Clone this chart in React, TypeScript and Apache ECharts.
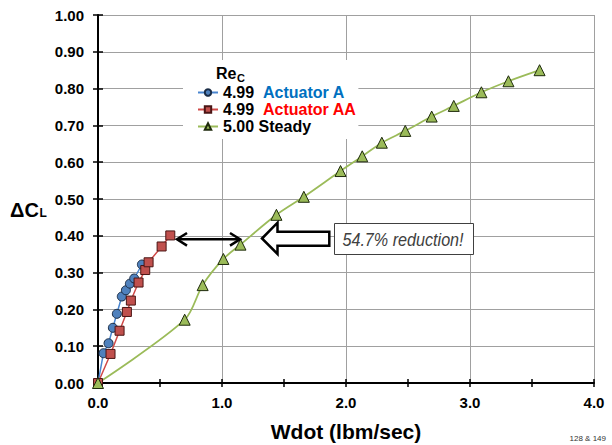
import React, { useEffect, useRef } from 'react';
import * as echarts from 'echarts';

// Wdot (lbm/sec) vs ΔCL
const actuatorAX = [0, 0.044, 0.085, 0.12, 0.152, 0.192, 0.225, 0.257, 0.292, 0.354];
const actuatorAY = [0, 0.081, 0.108, 0.15, 0.188, 0.235, 0.252, 0.27, 0.284, 0.322];
const actuatorAAX = [0, 0.101, 0.174, 0.233, 0.265, 0.327, 0.381, 0.408, 0.513, 0.583];
const actuatorAAY = [0, 0.079, 0.142, 0.193, 0.224, 0.273, 0.307, 0.328, 0.371, 0.401];
const steadyX = [0, 0.699, 0.844, 1.011, 1.149, 1.439, 1.66, 1.956, 2.131, 2.289, 2.478, 2.691, 2.869, 3.092, 3.31, 3.561];
const steadyY = [0, 0.172, 0.266, 0.337, 0.376, 0.457, 0.506, 0.576, 0.616, 0.653, 0.685, 0.724, 0.753, 0.79, 0.82, 0.85];

const seriesNames = ['Actuator A', 'Actuator AA', 'Steady'];
const reynolds = ['4.99', '4.99', '5.00'];
const xTickLabels = ['0.0', '1.0', '2.0', '3.0', '4.0'];

const FONT = "'Liberation Sans', Arial, sans-serif";

const zip = (xs: number[], ys: number[]) => xs.map((x, i) => [x, ys[i]]);

export default function App() {
  const ref = useRef<HTMLDivElement>(null);
  useEffect(() => {
    const chart = echarts.init(ref.current!, null, { renderer: 'svg' });
    const labelStyle = { color: '#000', fontFamily: FONT, fontWeight: 'bold' as const, fontSize: 15 };
    const option: any = {
      animation: false,
      backgroundColor: '#fff',
      grid: { left: 98, right: 18, top: 15, bottom: 62, containLabel: false },
      xAxis: [
        {
          type: 'value', position: 'bottom', min: 0, max: 4, interval: 0.5,
          axisLine: { lineStyle: { color: '#000', width: 2 } },
          axisTick: { length: 4, lineStyle: { color: '#000', width: 1.5 } },
          axisLabel: {
            ...labelStyle, margin: 12,
            formatter: (v: number) => {
              const i = xTickLabels.indexOf(v.toFixed(1));
              return Number.isInteger(v) && i >= 0 ? xTickLabels[i] : '';
            },
          },
          splitLine: { show: false },
        },
        {
          type: 'value', position: 'bottom', min: 0, max: 4, interval: 0.5,
          axisLine: { show: false },
          axisTick: { inside: true, length: 4, lineStyle: { color: '#000', width: 1.5 } },
          axisLabel: { show: false }, splitLine: { show: false },
        },
        {
          type: 'value', position: 'bottom', min: 0, max: 4, interval: 1,
          axisLine: { show: false }, axisTick: { show: false }, axisLabel: { show: false },
          splitLine: { show: true, lineStyle: { color: '#a0a0a0', width: 1 } },
        },
      ],
      yAxis: [
        {
          type: 'value', position: 'left', min: 0, max: 1, interval: 0.1,
          axisLine: { lineStyle: { color: '#000', width: 2 } },
          axisTick: { length: 5, lineStyle: { color: '#000', width: 1.5 } },
          axisLabel: { ...labelStyle, margin: 14, formatter: (v: number) => v.toFixed(2) },
          splitLine: { show: true, lineStyle: { color: '#a0a0a0', width: 1 } },
        },
        {
          type: 'value', position: 'left', min: 0, max: 1, interval: 0.1,
          axisLine: { show: false },
          axisTick: { inside: true, length: 5, lineStyle: { color: '#000', width: 1.5 } },
          axisLabel: { show: false }, splitLine: { show: false },
        },
      ],
      legend: {
        orient: 'vertical', left: 183, top: 60,
        backgroundColor: '#fff',
        padding: [24, 2, 4, 14],
        itemWidth: 20, itemHeight: 8, itemGap: 0,
        selectedMode: false,
        data: seriesNames,
        textStyle: {
          fontFamily: FONT, fontWeight: 'bold', fontSize: 16, color: '#000', lineHeight: 17,
          rich: {
            n: { fontFamily: FONT, fontWeight: 'bold', fontSize: 16, color: '#000', lineHeight: 17 },
            a: { fontFamily: FONT, fontWeight: 'bold', fontSize: 16, color: '#0070c0', lineHeight: 17 },
            r: { fontFamily: FONT, fontWeight: 'bold', fontSize: 16, color: '#ff0000', lineHeight: 17 },
          },
        },
        formatter: (name: string) => {
          const i = seriesNames.indexOf(name);
          if (i === 0) return `{n|${reynolds[0]}}  {a|${name}}`;
          if (i === 1) return `{n|${reynolds[1]}}  {r|${name}}`;
          return `{n|${reynolds[2]} ${name}}`;
        },
      },
      series: [
        {
          name: seriesNames[0], type: 'line', data: zip(actuatorAX, actuatorAY),
          symbol: 'circle', symbolSize: 9,
          itemStyle: { color: '#4f81bd', borderColor: '#1a2c45', borderWidth: 1 },
          lineStyle: { color: '#4a86d0', width: 1.5 },
        },
        {
          name: seriesNames[1], type: 'line', data: zip(actuatorAAX, actuatorAAY),
          symbol: 'rect', symbolSize: 9,
          itemStyle: { color: '#c0504d', borderColor: '#4a1514', borderWidth: 1 },
          lineStyle: { color: '#d04a48', width: 1.5 },
        },
        {
          name: seriesNames[2], type: 'line', data: zip(steadyX, steadyY),
          symbol: 'triangle', symbolSize: 11, smooth: 0.3,
          itemStyle: { color: '#9bbb59', borderColor: '#1e2a0c', borderWidth: 1 },
          lineStyle: { color: '#9bbb59', width: 1.8 },
        },
      ],
      graphic: [
        // Re_C legend title
        { type: 'text', z: 50, style: { text: 'Re', x: 216, y: 73, verticalAlign: 'middle', font: `bold 16px ${FONT}`, fill: '#000' } },
        { type: 'text', z: 50, style: { text: 'C', x: 237, y: 77.5, verticalAlign: 'middle', font: `bold 11px ${FONT}`, fill: '#000' } },
        // y-axis title ΔC_L
        { type: 'text', z: 50, style: { text: 'ΔC', x: 10, y: 209.5, verticalAlign: 'middle', font: `bold 20px ${FONT}`, fill: '#000' } },
        { type: 'text', z: 50, style: { text: 'L', x: 39.5, y: 212.5, verticalAlign: 'middle', font: `bold 12px ${FONT}`, fill: '#000' } },
        // x-axis title
        { type: 'text', z: 50, style: { text: 'Wdot (lbm/sec)', x: 346, y: 431, align: 'center', verticalAlign: 'middle', font: `bold 21px ${FONT}`, fill: '#000' } },
        // footnote
        { type: 'text', z: 50, style: { text: '128 & 149', x: 606, y: 438, align: 'right', verticalAlign: 'middle', font: `8px ${FONT}`, fill: '#333' } },
        // double-headed arrow
        { type: 'line', z: 50, shape: { x1: 177, y1: 239.3, x2: 240, y2: 239.3 }, style: { stroke: '#000', lineWidth: 2.5 } },
        { type: 'polyline', z: 50, shape: { points: [[187, 233], [177, 239.3], [187, 245.6]] }, style: { stroke: '#000', lineWidth: 2.5, fill: null } },
        { type: 'polyline', z: 50, shape: { points: [[230, 233], [240, 239.3], [230, 245.6]] }, style: { stroke: '#000', lineWidth: 2.5, fill: null } },
        // hollow block arrow
        {
          type: 'polygon', z: 50,
          shape: { points: [[262, 238.5], [277.5, 222.7], [277.5, 231.7], [329.3, 231.7], [329.3, 245.7], [277.5, 245.7], [277.5, 254]] },
          style: { fill: '#fff', stroke: '#000', lineWidth: 2.5 },
        },
        // text box
        { type: 'rect', z: 50, shape: { x: 334.5, y: 223.5, width: 139, height: 31 }, style: { fill: '#fff', stroke: '#404040', lineWidth: 1 } },
        {
          type: 'text', z: 51, x: 403, y: 239.5, scaleX: 0.85, scaleY: 1,
          style: { text: '54.7% reduction!', x: 0, y: 0, align: 'center', verticalAlign: 'middle', font: `italic 19px ${FONT}`, fill: '#404040' },
        },
      ],
    };
    chart.setOption(option);
    return () => chart.dispose();
  }, []);
  return <div ref={ref} style={{ position: 'fixed', left: 0, top: 0, width: 612, height: 445, background: '#fff' }} />;
}
